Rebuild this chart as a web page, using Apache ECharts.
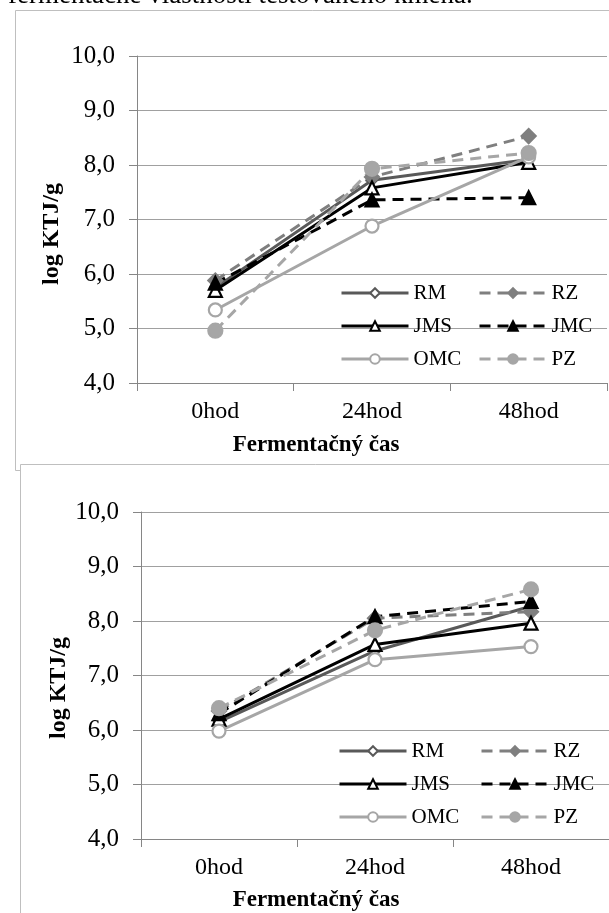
<!DOCTYPE html>
<html><head><meta charset="utf-8">
<script src="https://cdn.jsdelivr.net/npm/echarts@6/dist/echarts.min.js"></script>
<style>html,body{margin:0;padding:0;background:#fff}#c{width:609px;height:913px}</style>
</head><body><div id="c"></div>
<script>
const categories = ['0hod', '24hod', '48hod'];
const seriesNames = ['RM', 'RZ', 'JMS', 'JMC', 'OMC', 'PZ'];
// top chart
const topRM  = [5.75, 7.72, 8.10];
const topRZ  = [5.88, 7.78, 8.53];
const topJMS = [5.70, 7.58, 8.05];
const topJMC = [5.83, 7.36, 7.40];
const topOMC = [5.34, 6.88, 8.15];
const topPZ  = [4.96, 7.93, 8.22];
// bottom chart
const botRM  = [6.15, 7.45, 8.27];
const botRZ  = [6.35, 8.05, 8.17];
const botJMS = [6.20, 7.57, 7.96];
const botJMC = [6.30, 8.08, 8.36];
const botOMC = [5.98, 7.29, 7.53];
const botPZ  = [6.40, 7.83, 8.58];
const yTicks = [4, 5, 6, 7, 8, 9, 10];
const xTitle = 'Fermentačný čas';
const yTitle = 'log KTJ/g';
const headText = 'fermentačné vlastnosti testovaného kmeňa.';

const SERIF = '"Liberation Serif", "DejaVu Serif", serif';
const styles = {
  RM:  {color:'#595959', dash:'solid', symbol:'diamond', size:10, fill:'#fff'},
  RZ:  {color:'#7f7f7f', dash:[11,7], symbol:'diamond', size:14, fill:'#7f7f7f'},
  JMS: {color:'#000000', dash:'solid', symbol:'triangle', size:13, fill:'#fff'},
  JMC: {color:'#000000', dash:[11,7], symbol:'triangle', size:13, fill:'#000'},
  OMC: {color:'#a6a6a6', dash:'solid', symbol:'circle', size:13, fill:'#fff'},
  PZ:  {color:'#a6a6a6', dash:[11,7], symbol:'circle', size:14, fill:'#a6a6a6'}
};
const topData = {RM:topRM, RZ:topRZ, JMS:topJMS, JMC:topJMC, OMC:topOMC, PZ:topPZ};
const botData = {RM:botRM, RZ:botRZ, JMS:botJMS, JMC:botJMC, OMC:botOMC, PZ:botPZ};

function mkSeries(idx, dataMap) {
  return seriesNames.map(n => {
    const s = styles[n];
    return {
      name: n, type: 'line', xAxisIndex: idx, yAxisIndex: idx,
      data: dataMap[n], symbol: s.symbol, symbolSize: s.size, showAllSymbol: true,
      lineStyle: {color: s.color, width: 3, type: s.dash},
      itemStyle: {color: s.fill, borderColor: s.color, borderWidth: 2.2},
      emphasis: {disabled: true}, animation: false
    };
  });
}
function mkX(idx) {
  return {
    type: 'category', gridIndex: idx, data: categories, boundaryGap: true,
    axisLine: {lineStyle: {color: '#868686', width: 1}},
    axisTick: {show: true, length: 8, lineStyle: {color: '#868686'}},
    axisLabel: {color: '#000', fontFamily: SERIF, fontSize: 24, margin: 17}
  };
}
function mkY(idx) {
  return {
    type: 'value', gridIndex: idx, min: yTicks[0], max: yTicks[yTicks.length-1], interval: 1,
    axisLine: {show: true, lineStyle: {color: '#868686', width: 1}},
    axisTick: {show: true, length: 8, lineStyle: {color: '#868686'}},
    splitLine: {lineStyle: {color: '#a0a0a0', width: 1}},
    axisLabel: {color: '#000', fontFamily: SERIF, fontSize: 25, margin: 22,
      formatter: v => v.toFixed(1).replace('.', ',')}
  };
}
function mkLegend(left, top, names) {
  return {
    left: left, top: top, orient: 'vertical', data: names,
    itemWidth: 67, itemHeight: 12, itemGap: 11, selectedMode: false,
    lineStyle: {width: 3},
    textStyle: {fontFamily: SERIF, fontSize: 21, color: '#000', lineHeight: 22}
  };
}
const option = {
  animation: false,
  grid: [
    {left: 137, top: 56, width: 470, height: 327},
    {left: 141, top: 512, width: 472, height: 327}
  ],
  xAxis: [mkX(0), mkX(1)],
  yAxis: [mkY(0), mkY(1)],
  legend: [
    mkLegend(335, 277, ['RM', 'JMS', 'OMC']),
    mkLegend(473, 277, ['RZ', 'JMC', 'PZ']),
    mkLegend(333, 735, ['RM', 'JMS', 'OMC']),
    mkLegend(475, 735, ['RZ', 'JMC', 'PZ'])
  ],
  series: mkSeries(0, topData).concat(mkSeries(1, botData)),
  graphic: [
    {type: 'rect', shape: {x: 15.5, y: 10.5, width: 620, height: 460}, style: {fill: 'none', stroke: '#bfbfbf', lineWidth: 1}, z: -10},
    {type: 'rect', shape: {x: 20.5, y: 464.5, width: 620, height: 470}, style: {fill: '#fff', stroke: '#bfbfbf', lineWidth: 1}, z: -9},
    {type: 'text', left: 8, top: -18, style: {text: headText, font: '27px ' + SERIF, fill: '#000'}},
    {type: 'text', x: 316, y: 445, style: {text: xTitle, font: 'bold 23px ' + SERIF, fill: '#000', align: 'center', verticalAlign: 'middle'}},
    {type: 'text', x: 316, y: 900, style: {text: xTitle, font: 'bold 23px ' + SERIF, fill: '#000', align: 'center', verticalAlign: 'middle'}},
    {type: 'text', x: 52, y: 234, rotation: Math.PI/2, style: {text: yTitle, font: 'bold 24px ' + SERIF, fill: '#000', align: 'center', verticalAlign: 'middle'}},
    {type: 'text', x: 59, y: 688, rotation: Math.PI/2, style: {text: yTitle, font: 'bold 24px ' + SERIF, fill: '#000', align: 'center', verticalAlign: 'middle'}}
  ]
};
const chart = echarts.init(document.getElementById('c'), null, {renderer: 'canvas'});
chart.setOption(option);
</script></body></html>
